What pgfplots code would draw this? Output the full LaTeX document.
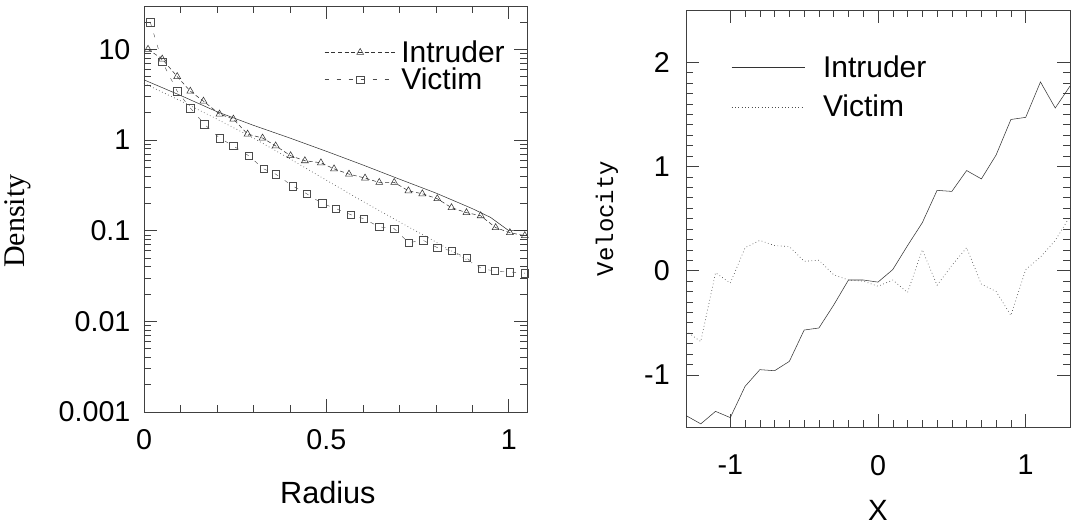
\documentclass[border=0pt]{standalone}
\usepackage{fontspec}
\setmainfont{Liberation Sans}
\newfontfamily\seriffont{Liberation Serif}
\newfontfamily\monofont{Liberation Mono}
\usepackage{pgfplots}
\pgfplotsset{compat=1.18}

\pgfplotstableread{
x y
0.011 10
0.050 7.8
0.091 5.0
0.127 3.45
0.163 2.68
0.207 1.93
0.245 1.70
0.284 1.16
0.325 1.05
0.361 0.86
0.402 0.67
0.441 0.59
0.485 0.56
0.521 0.48
0.562 0.42
0.606 0.38
0.645 0.34
0.686 0.34
0.725 0.275
0.763 0.255
0.804 0.225
0.843 0.179
0.884 0.158
0.923 0.146
0.964 0.108
1.003 0.095
1.044 0.088
}\intruderdens

\pgfplotstableread{
x y
0.017 20
0.050 7.3
0.091 3.45
0.127 2.25
0.165 1.50
0.207 1.05
0.245 0.86
0.287 0.67
0.328 0.48
0.361 0.42
0.408 0.31
0.446 0.255
0.488 0.20
0.526 0.175
0.567 0.15
0.603 0.135
0.645 0.11
0.686 0.105
0.725 0.074
0.766 0.078
0.804 0.065
0.843 0.060
0.884 0.050
0.926 0.038
0.961 0.036
1.003 0.035
1.044 0.034
}\victimdens

\pgfplotstableread{
x y
0.0 4.6
0.1 3.1
0.2 2.05
0.3 1.45
0.4 1.05
0.5 0.75
0.6 0.53
0.7 0.37
0.8 0.26
0.9 0.175
0.95 0.14
1.0 0.10
1.05 0.10
}\intrudermodel

\pgfplotstableread{
x y
0.0 4.2
0.1 2.7
0.2 1.7
0.3 1.05
0.4 0.62
0.5 0.36
0.6 0.21
0.7 0.125
0.8 0.075
0.9 0.044
}\victimmodel

\pgfplotstableread{
x y
-1.3 -1.39
-1.2 -1.47
-1.1 -1.35
-1.0 -1.41
-0.9 -1.11
-0.8 -0.95
-0.7 -0.96
-0.6 -0.87
-0.5 -0.57
-0.4 -0.55
-0.3 -0.33
-0.2 -0.09
-0.1 -0.09
0.0 -0.11
0.1 0.01
0.2 0.24
0.3 0.46
0.4 0.77
0.5 0.76
0.6 0.96
0.7 0.88
0.8 1.11
0.9 1.45
1.0 1.47
1.1 1.81
1.2 1.56
1.3 1.77
}\intrudervel

\pgfplotstableread{
x y
-1.3 -0.58
-1.2 -0.68
-1.1 -0.02
-1.0 -0.12
-0.9 0.22
-0.8 0.29
-0.7 0.24
-0.6 0.23
-0.5 0.09
-0.4 0.10
-0.3 -0.04
-0.2 -0.09
-0.1 -0.10
0.0 -0.15
0.1 -0.09
0.2 -0.21
0.3 0.20
0.4 -0.14
0.5 0.05
0.6 0.22
0.7 -0.13
0.8 -0.20
0.9 -0.43
1.0 0.01
1.1 0.13
1.2 0.29
1.3 0.52
}\victimvel

\pgfplotsset{
  common/.style={
    scale only axis,
    axis line style={black!75, line width=0.4pt},
    every tick/.style={black!75, line width=0.4pt},
    major tick length=10pt,
    minor tick length=5pt,
    tick label style={font=\fontsize{21.5}{24}\selectfont, inner sep=0pt},
    legend cell align=left,
  }
}

\begin{document}
\begin{tikzpicture}[x=1pt,y=1pt]
\useasboundingbox (0,0) rectangle (804,394.5);

\begin{axis}[
  common,
  at={(108pt,85.5pt)}, anchor=south west,
  width=287.25pt, height=304.5pt,
  xmin=0, xmax=1.05,
  ymode=log, ymin=0.001, ymax=30,
  xtick={0,0.5,1}, xticklabels={0,0.5,1},
  minor xtick={0.1,0.2,0.3,0.4,0.6,0.7,0.8,0.9},
  ytick={0.001,0.01,0.1,1,10}, yticklabels={0.001,0.01,0.1,1,10},
  minor ytick={0.002,0.003,0.004,0.005,0.006,0.007,0.008,0.009,
               0.02,0.03,0.04,0.05,0.06,0.07,0.08,0.09,
               0.2,0.3,0.4,0.5,0.6,0.7,0.8,0.9,
               2,3,4,5,6,7,8,9,20},
  xticklabel style={anchor=north, yshift=-13pt},
  yticklabel style={anchor=east, xshift=-10pt},
  xlabel={Radius},
  xlabel style={font=\fontsize{23}{26}\selectfont, at={(axis description cs:0.48,-0.1995)}, anchor=center},
  ylabel={Density},
  ylabel style={font=\seriffont\fontsize{22.5}{26}\selectfont, at={(axis description cs:-0.329,0.47)}, anchor=center},
  legend style={at={(axis description cs:0.46,0.922)}, anchor=north west, draw=none, fill=none,
    font=\fontsize{22.5}{24}\selectfont, row sep=2.5pt, column sep=4pt, nodes={inner sep=0pt}},
  legend image code/.code={\draw[mark repeat=2,mark phase=2,#1] plot coordinates {(0pt,0pt) (26.6pt,0pt) (53.25pt,0pt)};},
]
\addplot[black!80, densely dashed, line width=0.4pt, mark=triangle, mark size=3pt, mark options={solid}] table {\intruderdens};
\addlegendentry{Intruder}
\addplot[black!70, loosely dashed, line width=0.3pt, mark=square, mark size=2.8pt, mark options={solid}] table {\victimdens};
\addlegendentry{Victim}
\addplot[black!80, line width=0.4pt, forget plot] table {\intrudermodel};
\addplot[black!70, dotted, line width=0.5pt, forget plot] table {\victimmodel};
\end{axis}

\begin{axis}[
  common,
  at={(514.5pt,74.25pt)}, anchor=south west,
  width=288pt, height=312.75pt,
  xmin=-1.3, xmax=1.3,
  ymin=-1.5, ymax=2.5,
  xtick={-1,0,1}, xticklabels={-1,0,1},
  minor x tick num=9,
  ytick={-1,0,1,2}, yticklabels={-1,0,1,2},
  minor y tick num=9,
  xticklabel style={anchor=north, yshift=-21pt},
  yticklabel style={anchor=east, xshift=-12pt},
  xlabel={X},
  xlabel style={font=\fontsize{22}{24}\selectfont, at={(axis description cs:0.5,-0.199)}, anchor=center},
  ylabel={Velocity},
  ylabel style={font=\monofont\fontsize{18}{24}\selectfont, at={(axis description cs:-0.206,0.5)}, anchor=center},
  legend style={at={(axis description cs:0.107,0.898)}, anchor=north west, draw=none, fill=none,
    font=\fontsize{22.5}{24}\selectfont, row sep=12pt, column sep=13.5pt, nodes={inner sep=0pt}},
  legend image code/.code={\draw[#1] (0pt,0pt) -- (54.75pt,0pt);},
]
\addplot[black!80, line width=0.4pt] table {\intrudervel};
\addlegendentry{Intruder}
\addplot[black!70, dotted, line width=0.5pt] table {\victimvel};
\addlegendentry{Victim}
\end{axis}
\end{tikzpicture}
\end{document}
